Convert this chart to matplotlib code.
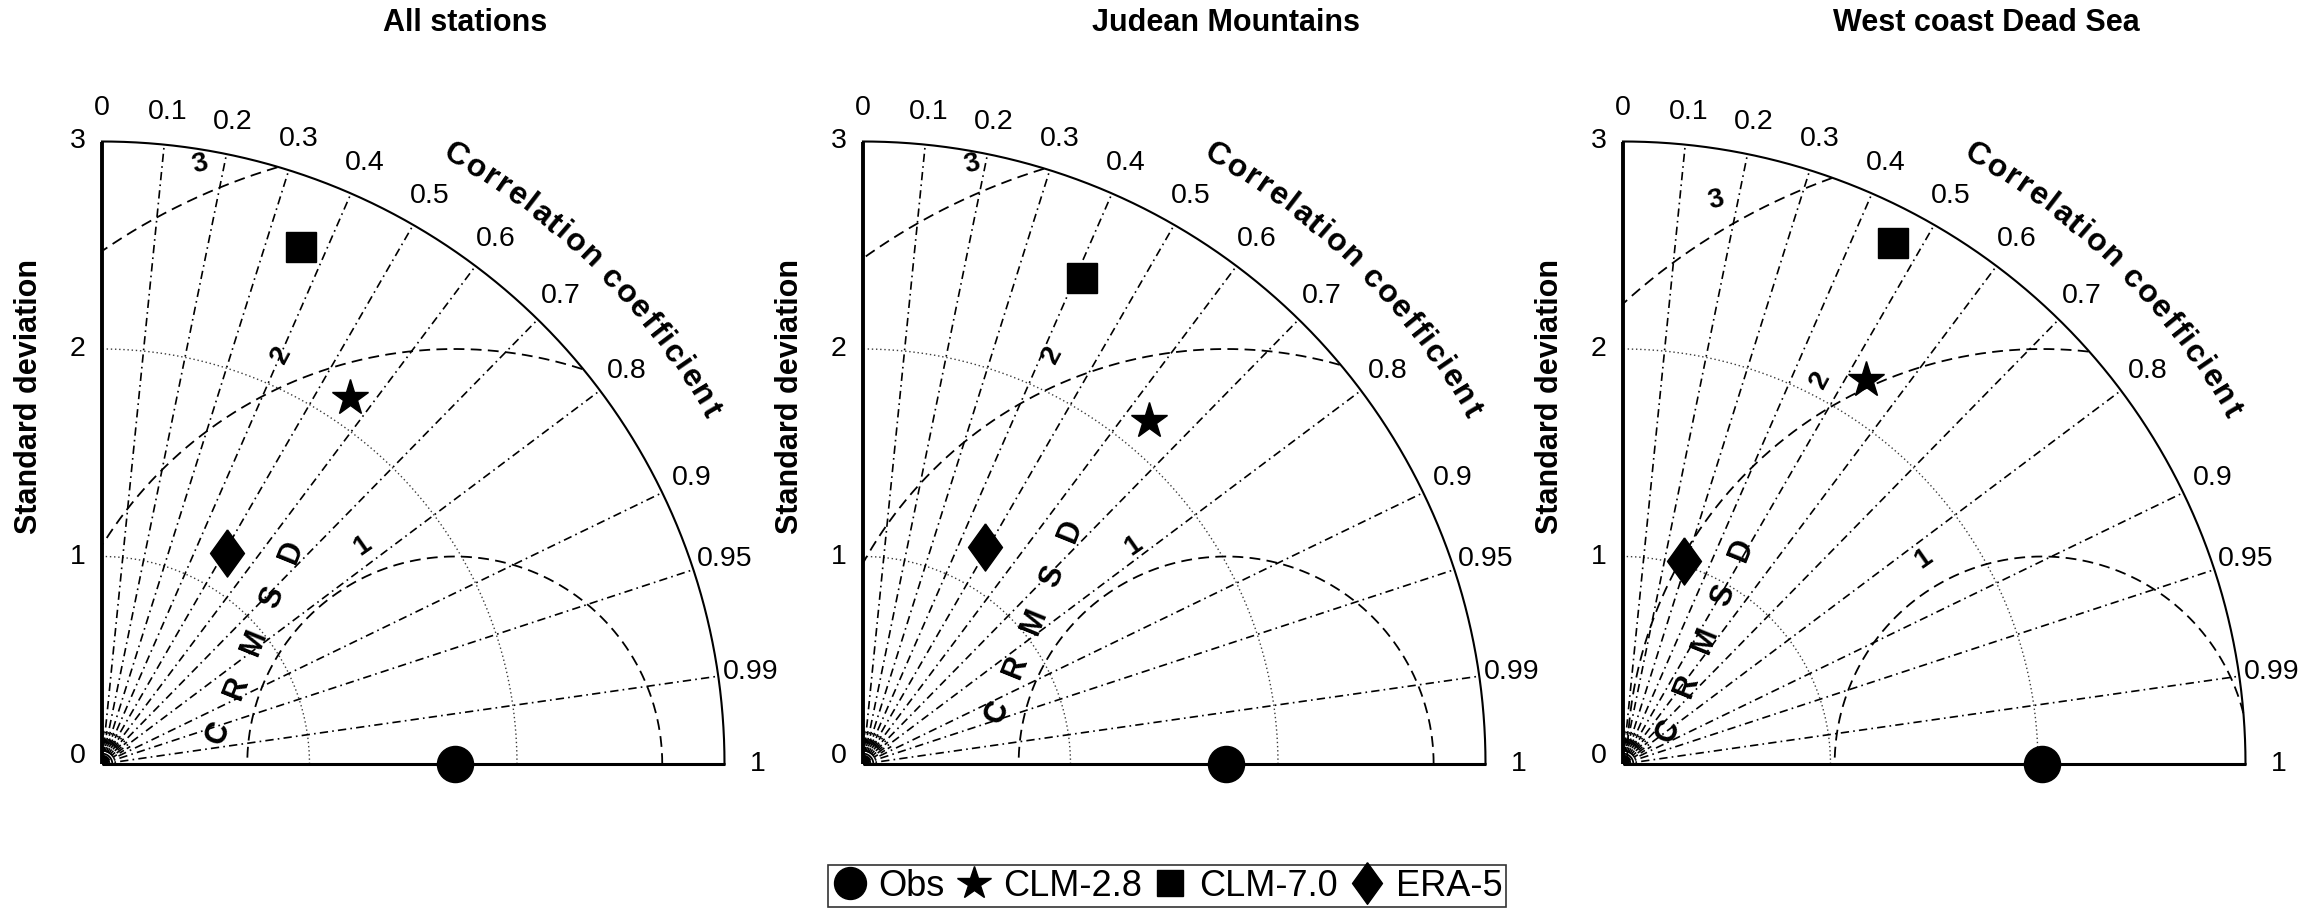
import numpy as np
import matplotlib.pyplot as plt
from matplotlib import font_manager
from matplotlib.font_manager import FontProperties
from matplotlib.lines import Line2D
from matplotlib.textpath import TextToPath

plt.rcParams['font.family'] = ['Liberation Sans', 'DejaVu Sans']

# Taylor statistics per region (std in mm/day units, corr dimensionless)
regions = ["All stations", "Judean Mountains", "West coast Dead Sea"]
obs_std = [1.70, 1.75, 2.02]
clm28_std = [2.13, 2.15, 2.19]
clm28_corr = [0.56, 0.64, 0.535]
clm70_std = [2.67, 2.57, 2.83]
clm70_corr = [0.36, 0.41, 0.46]
era5_std = [1.18, 1.20, 1.02]
era5_corr = [0.51, 0.49, 0.29]

corr_ticks = [0.0, 0.1, 0.2, 0.3, 0.4, 0.5, 0.6, 0.7, 0.8, 0.9, 0.95, 0.99, 1.0]
corr_labels = ["0", "0.1", "0.2", "0.3", "0.4", "0.5", "0.6", "0.7", "0.8",
               "0.9", "0.95", "0.99", "1"]
std_ticks = [0, 1, 2, 3]
rmsd_levels = [1, 2, 3]
std_max = 3.0

# panel placement (pixels) and annotation anchors
W, H = 2318, 911
origins = [(102, 764), (863, 764), (1623, 764)]
unit_px = 207.5
rms_label_angle = [113, 113, 120]
crmsd_start = [(0.56, 0.15), (0.65, 0.25), (0.22, 0.16)]

narrow = "Liberation Sans Narrow"
names = {f.name for f in font_manager.fontManager.ttflist}
if narrow not in names:
    narrow = "Liberation Sans"

fig = plt.figure(figsize=(W / 100, H / 100), dpi=100)

DASHDOT = (0, (5, 2.5, 1, 2.5))
DIAMOND = [(0, 1), (0.72, 0), (0, -1), (-0.72, 0), (0, 1)]


def polar(r, corr):
    a = np.arccos(corr)
    return r * np.cos(a), r * np.sin(a)


def curved_text(ax, text, radius, a0, a1, size):
    prop = FontProperties(family='Liberation Sans', weight='bold', size=size)
    ttp = TextToPath()
    widths = []
    for ch in text:
        if ch == " ":
            widths.append(0.3 * size)
        else:
            w, _, _ = ttp.get_text_width_height_descent(ch, prop, ismath=False)
            widths.append(w + 0.08 * size)
    widths = np.array(widths)
    centers = np.cumsum(widths) - widths / 2
    frac = (centers - centers[0]) / (centers[-1] - centers[0])
    for ch, f in zip(text, frac):
        if ch == " ":
            continue
        ang = np.deg2rad(a0 - f * (a0 - a1))
        ax.text(radius * np.cos(ang), radius * np.sin(ang), ch,
                rotation=np.rad2deg(ang) - 90, ha='center', va='center',
                fontproperties=prop, rotation_mode='anchor')


for i, (ox, oy) in enumerate(origins):
    size = std_max * unit_px
    ax = fig.add_axes([ox / W, (H - oy) / H, size / W, size / H])
    ax.set_xlim(0, std_max)
    ax.set_ylim(0, std_max)
    ax.axis('off')

    t = np.linspace(0, np.pi / 2, 400)

    # std arcs
    for s in [1, 2]:
        ax.plot(s * np.cos(t), s * np.sin(t), color='#3a3a3a', lw=1.0,
                linestyle=(0, (1, 2)), clip_on=False)

    # correlation rays
    for c in corr_ticks[1:-1]:
        x, y = polar(std_max, c)
        ax.plot([0, x], [0, y], color='black', lw=1.2, linestyle=DASHDOT,
                clip_on=False)
    for c in np.arange(0.05, 0.9, 0.1):
        x, y = polar(0.16, c)
        ax.plot([0.02 * x / 0.16, x], [0.02 * y / 0.16, y], color='black',
                lw=1.2, linestyle=(0, (3, 2)), clip_on=False)
    for r in [0.025, 0.05]:
        ax.plot(r * np.cos(t), r * np.sin(t), color='black', lw=1.3,
                clip_on=False)

    # centred RMS difference circles around the reference
    ref = obs_std[i]
    th = np.linspace(0, np.pi, 800)
    for k in rmsd_levels:
        cx = ref + k * np.cos(th)
        cy = k * np.sin(th)
        keep = (cx >= 0) & (cx ** 2 + cy ** 2 <= std_max ** 2 + 1e-9)
        cx = np.where(keep, cx, np.nan)
        cy = np.where(keep, cy, np.nan)
        ax.plot(cx, cy, color='black', lw=1.3, linestyle=(0, (6, 3.5)),
                clip_on=False)
        ang = np.deg2rad(rms_label_angle[i])
        lx = ref + (k + 0.14) * np.cos(ang)
        ly = (k + 0.14) * np.sin(ang)
        rot = {1: 35, 2: 62, 3: 15}[k]
        ax.text(lx, ly, str(k), ha='center', va='center', fontsize=20,
                fontweight='bold', rotation=rot)

    # CRMSD label letters
    sx, sy = crmsd_start[i]
    d = np.deg2rad(68)
    for j, ch in enumerate("CRMSD"):
        ax.text(sx + 0.235 * j * np.cos(d), sy + 0.235 * j * np.sin(d), ch,
                rotation=68, ha='center', va='center', fontsize=22,
                fontweight='bold')

    # frame
    ax.plot(std_max * np.cos(t), std_max * np.sin(t), color='black', lw=1.5,
            clip_on=False)
    ax.plot([0, 0], [0, std_max], color='black', lw=2.8, clip_on=False,
            solid_capstyle='butt')
    ax.plot([0, std_max], [0, 0], color='black', lw=2.2, clip_on=False,
            solid_capstyle='butt')

    # tick labels
    for c, lab in zip(corr_ticks, corr_labels):
        x, y = polar(3.16, c)
        ax.text(x, y, lab, ha='center', va='center', fontsize=20.5)
    for s in std_ticks:
        ax.text(-0.08, s + (0.04 if s == 0 else 0), str(s), ha='right',
                va='center', fontsize=20.5)

    ax.text(-0.35, 1.77, "Standard deviation", rotation=90, ha='center',
            va='center', fontsize=22, fontweight='bold')
    curved_text(ax, "Correlation coefficient", 3.39, 59.8, 30.2, 23)
    ax.text(1.75, 3.57, regions[i], ha='center', va='center', fontsize=22,
            fontweight='bold')

    # model points
    ax.plot([ref], [0], 'o', color='black', ms=26, clip_on=False, zorder=5)
    x, y = polar(clm28_std[i], clm28_corr[i])
    ax.plot([x], [y], '*', color='black', ms=27, clip_on=False, zorder=5)
    x, y = polar(clm70_std[i], clm70_corr[i])
    ax.plot([x], [y], 's', color='black', ms=21, clip_on=False, zorder=5)
    x, y = polar(era5_std[i], era5_corr[i])
    ax.plot([x], [y], marker=DIAMOND, color='black', ms=34, lw=0,
            clip_on=False, zorder=5)

handles = [
    Line2D([], [], marker='o', color='black', lw=0, ms=23),
    Line2D([], [], marker='*', color='black', lw=0, ms=25),
    Line2D([], [], marker='s', color='black', lw=0, ms=19),
    Line2D([], [], marker=DIAMOND, color='black', lw=0, ms=30),
]
leg = fig.legend(handles, ["Obs", "CLM-2.8", "CLM-7.0", "ERA-5"],
                 loc='center', bbox_to_anchor=(1167 / W, 1 - 886 / H), ncol=4,
                 frameon=True, fancybox=False, edgecolor='black',
                 handletextpad=0.3, columnspacing=0.3, borderpad=0.1,
                 handlelength=1.0, prop=FontProperties(family=narrow, size=26))
leg.get_frame().set_linewidth(1.2)

fig.savefig("out.png", dpi=100, facecolor='white')
